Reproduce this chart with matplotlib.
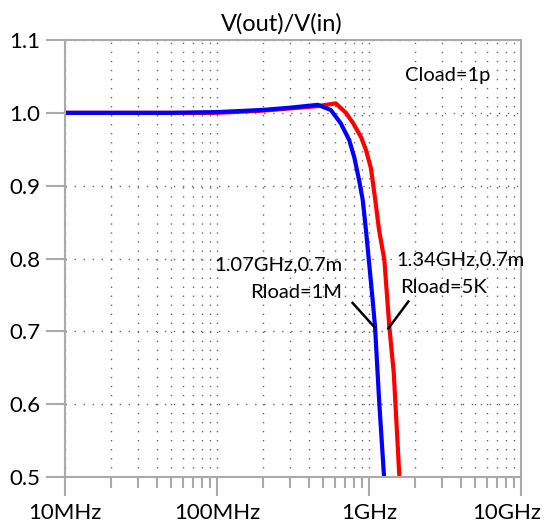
import numpy as np
import matplotlib.pyplot as plt
from matplotlib.ticker import FixedLocator, NullFormatter
from matplotlib.transforms import ScaledTranslation

plt.rcParams['font.family'] = ['Lato', 'DejaVu Sans']

# frequency points (Hz) and gain
freq_1m = [1e7, 5e7, 1e8, 2e8, 3e8, 4.6e8, 5.6e8, 6.5e8, 7.4e8, 8.0e8,
           8.6e8, 9.1e8, 9.55e8, 1.057e9, 1.096e9, 1.165e9, 1.256e9]
gain_1m = [1.000, 1.000, 1.001, 1.004, 1.007, 1.011, 1.004, 0.986, 0.963,
           0.939, 0.908, 0.880, 0.839, 0.743, 0.706, 0.606, 0.500]

freq_5k = [1e7, 5e7, 1e8, 2e8, 3e8, 4.5e8, 6.05e8, 7.05e8, 7.85e8, 8.85e8,
           9.55e8, 1.03e9, 1.10e9, 1.165e9, 1.262e9, 1.361e9, 1.455e9,
           1.585e9]
gain_5k = [1.000, 1.000, 1.000, 1.003, 1.006, 1.009, 1.013, 1.000, 0.986,
           0.967, 0.949, 0.924, 0.880, 0.839, 0.798, 0.706, 0.643, 0.500]

x_ticks = [1e7, 1e8, 1e9, 1e10]
x_labels = ['10MHz', '100MHz', '1GHz', '10GHz']
y_ticks = [0.5, 0.6, 0.7, 0.8, 0.9, 1.0, 1.1]

fig = plt.figure(figsize=(5.49, 5.25), dpi=100)
ax = fig.add_axes([0.1184, 0.0914, 0.8306, 0.8324])

ax.semilogx(freq_5k, gain_5k, color='#ff0000', lw=3, solid_joinstyle='round')
ax.semilogx(freq_1m, gain_1m, color='#0000ff', lw=3, solid_joinstyle='round')

ax.set_xlim(1e7, 1e10)
ax.set_ylim(0.5, 1.1)
ax.set_xticks(x_ticks)
ax.set_xticklabels(x_labels)
minors = [m * d for d in [1e7, 1e8, 1e9] for m in range(2, 10)]
ax.xaxis.set_minor_locator(FixedLocator(minors))
ax.xaxis.set_minor_formatter(NullFormatter())
ax.set_yticks(y_ticks)
ax.set_yticklabels(['%.1f' % v for v in y_ticks])

ax.grid(True, which='both', axis='x', color='#666666', lw=1, ls=(0, (1, 5.5)))
ax.grid(True, which='major', axis='y', color='#666666', lw=1, ls=(0, (1, 5.5)))

for s in ax.spines.values():
    s.set_color('#aaaaaa')
    s.set_linewidth(1.5)
ax.tick_params(axis='x', which='major', length=14, width=1.5, color='#aaaaaa',
               labelsize=16, pad=5)
ax.tick_params(axis='x', which='minor', length=8, width=1.5, color='#aaaaaa')
ax.tick_params(axis='y', which='major', length=14, width=1.5, color='#aaaaaa',
               labelsize=16, pad=4)

# last x label sits a bit left so it stays inside the picture
last = ax.get_xticklabels()[-1]
last.set_transform(last.get_transform() + ScaledTranslation(-10 / 72, 0, fig.dpi_scale_trans))

fig.text(282 / 549, 1 - 24 / 525, 'V(out)/V(in)', fontsize=17,
         ha='center', va='center')

fig.text(405 / 549, 1 - 76 / 525, 'Cload=1p', fontsize=14.5, ha='left', va='center')
ax.text(6.65e8, 0.791, '1.07GHz,0.7m', fontsize=14.5, ha='right', va='center')
ax.text(6.65e8, 0.754, 'Rload=1M', fontsize=14.5, ha='right', va='center')
ax.text(1.507e9, 0.798, '1.34GHz,0.7m', fontsize=14.5, ha='left', va='center')
ax.text(1.60e9, 0.760, 'Rload=5K', fontsize=14.5, ha='left', va='center')
ax.plot([7.8e8, 1.084e9], [0.739, 0.706], color='black', lw=1.8)
ax.plot([1.817e9, 1.34e9], [0.741, 0.704], color='black', lw=1.8)

fig.savefig('out.png', dpi=100)
